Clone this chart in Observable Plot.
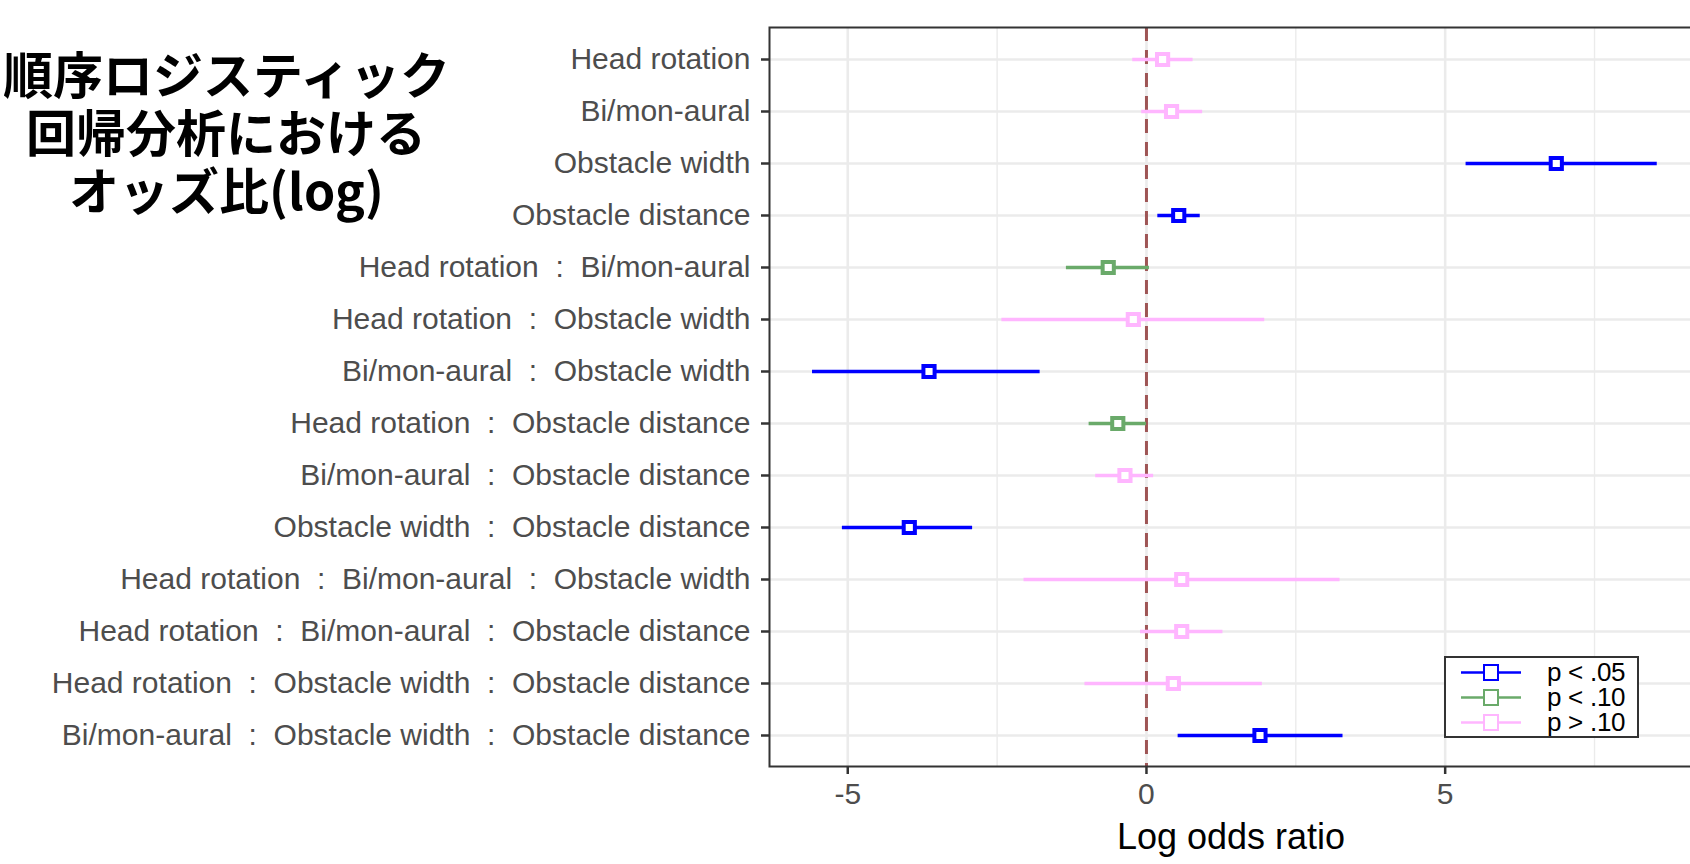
<!DOCTYPE html>
<html>
<head>
<meta charset="utf-8">
<script src="https://cdn.jsdelivr.net/npm/d3@7"></script>
<script src="https://cdn.jsdelivr.net/npm/@observablehq/plot@0.6"></script>
<style>
  @font-face {
    font-family: "TitleJP";
    src: local("Noto Sans CJK JP Bold"), local("NotoSansCJKjp-Bold"), local("Noto Sans CJK JP");
    font-weight: 700;
    ascent-override: 88%;
    descent-override: 12%;
    line-gap-override: 0%;
  }
  @font-face {
    font-family: "LegendSans";
    src: local("Liberation Sans"), local("LiberationSans"), local("LiberationSans-Regular");
    ascent-override: 80%;
    descent-override: 14%;
    line-gap-override: 0%;
  }
  html, body { margin: 0; padding: 0; background: #fff; }
  #wrap { position: relative; width: 1690px; height: 864px; overflow: hidden; font-family: "Liberation Sans", Arial, sans-serif; }
  .tline { position: absolute; left: 0; width: 452px; height: 56px; text-align: center;
    font-family: "TitleJP", "Noto Sans CJK JP", sans-serif; font-weight: 700; font-size: 50px; line-height: 56px; color: #000; white-space: nowrap; }
  #legend { position: absolute; left: 1444px; top: 656px; width: 191px; height: 78px; border: 2px solid #333; background: #fff; }
  #legend .row { position: absolute; left: 0; height: 25px; display: flex; align-items: center; }
  #legend .row span { font-family: "LegendSans", "Liberation Sans", Arial, sans-serif; font-size: 26px; line-height: 24px; color: #000; margin-left: 25px; white-space: pre; }
</style>
</head>
<body>
<div id="wrap">
  <div id="title"></div>
  <div id="chart"></div>
  <div id="legend"></div>
</div>
<script>
// ---- data ----
const titleLines = ["順序ロジスティック", "回帰分析における", "オッズ比(log)"];
const SEP = "\u00a0\u00a0:\u00a0\u00a0";
const termParts = [
  ["Head rotation"],
  ["Bi/mon-aural"],
  ["Obstacle width"],
  ["Obstacle distance"],
  ["Head rotation", "Bi/mon-aural"],
  ["Head rotation", "Obstacle width"],
  ["Bi/mon-aural", "Obstacle width"],
  ["Head rotation", "Obstacle distance"],
  ["Bi/mon-aural", "Obstacle distance"],
  ["Obstacle width", "Obstacle distance"],
  ["Head rotation", "Bi/mon-aural", "Obstacle width"],
  ["Head rotation", "Bi/mon-aural", "Obstacle distance"],
  ["Head rotation", "Obstacle width", "Obstacle distance"],
  ["Bi/mon-aural", "Obstacle width", "Obstacle distance"]
];
const estimate = [0.27, 0.42, 6.86, 0.54, -0.64, -0.22, -3.64, -0.48, -0.36, -3.97, 0.59, 0.59, 0.45, 1.90];
const lower    = [-0.23, -0.08, 5.35, 0.19, -1.34, -2.42, -5.59, -0.96, -0.85, -5.09, -2.05, -0.10, -1.03, 0.53];
const upper    = [0.78, 0.94, 8.55, 0.90, 0.05, 1.98, -1.78, 0.00, 0.12, -2.91, 3.24, 1.28, 1.94, 3.29];
const pGroup   = ["p > .10", "p > .10", "p < .05", "p < .05", "p < .10", "p > .10", "p < .05", "p < .10", "p > .10", "p < .05", "p > .10", "p > .10", "p > .10", "p < .05"];
const groups = ["p < .05", "p < .10", "p > .10"];
const groupColors = ["#0000FF", "#6AAA6A", "#FFB6FF"];
const xTicks = [-5, 0, 5];
const xMinorTicks = [-2.5, 2.5, 7.5];
const xLabel = "Log odds ratio";

const terms = termParts.map(p => p.join(SEP));
const data = terms.map((t, i) => ({term: t, est: estimate[i], lo: lower[i], hi: upper[i], g: pGroup[i]}));

// ---- title ----
const titleEl = document.getElementById("title");
titleLines.forEach((line, i) => {
  const d = document.createElement("div");
  d.className = "tline";
  d.style.top = (47 + i * 58) + "px";
  d.textContent = line;
  titleEl.appendChild(d);
});

// ---- chart ----
const font = "'Liberation Sans', Arial, sans-serif";
const chart = Plot.plot({
  width: 1690,
  height: 864,
  marginLeft: 769,
  marginRight: -2,
  marginTop: 27,
  marginBottom: 98,
  style: {fontFamily: font, background: "transparent", overflow: "visible"},
  x: {domain: [-6.31, 9.14]},
  y: {type: "point", domain: terms, padding: 0.6},
  color: {domain: groups, range: groupColors},
  marks: [
    Plot.gridX(xMinorTicks, {stroke: "#EBEBEB", strokeOpacity: 1, strokeWidth: 1.4}),
    Plot.gridX(xTicks, {stroke: "#EBEBEB", strokeOpacity: 1, strokeWidth: 2.6}),
    Plot.gridY(terms, {stroke: "#EBEBEB", strokeOpacity: 1, strokeWidth: 2.6}),
    Plot.ruleX([0], {stroke: "#9E5555", strokeWidth: 3, strokeDasharray: "14,9"}),
    Plot.ruleY(data, {y: "term", x1: "lo", x2: "hi", stroke: "g", strokeWidth: 3.4}),
    Plot.dot(data, {x: "est", y: "term", stroke: "g", fill: "white", symbol: "square", r: 6.3, strokeWidth: 4}),
    Plot.frame({stroke: "#333", strokeWidth: 2}),
    Plot.axisY(terms, {tickSize: 8, tickPadding: 11, fontSize: 30, fill: "#4D4D4D", stroke: "#333", strokeWidth: 2.5, label: null}),
    Plot.axisX(xTicks, {tickSize: 8, tickPadding: 8, fontSize: 30, fill: "#4D4D4D", stroke: "#333", strokeWidth: 2.5, label: null, tickFormat: d => String(d).replace("−", "-")}),
    Plot.text([xLabel], {frameAnchor: "bottom", dy: 71, fontSize: 36, fill: "#000", lineAnchor: "middle"})
  ]
});
document.getElementById("chart").appendChild(chart);

// ---- legend ----
const legend = document.getElementById("legend");
groups.forEach((g, i) => {
  const row = document.createElement("div");
  row.className = "row";
  row.style.top = (2 + i * 25) + "px";
  row.style.left = "14px";
  const c = groupColors[i];
  row.innerHTML = `<svg width="62" height="25"><line x1="1" x2="61" y1="12.5" y2="12.5" stroke="${c}" stroke-width="2.5"/><rect x="24" y="5" width="14" height="15" fill="white" stroke="${c}" stroke-width="2"/></svg><span>${g}</span>`;
  legend.appendChild(row);
});
</script>
</body>
</html>
